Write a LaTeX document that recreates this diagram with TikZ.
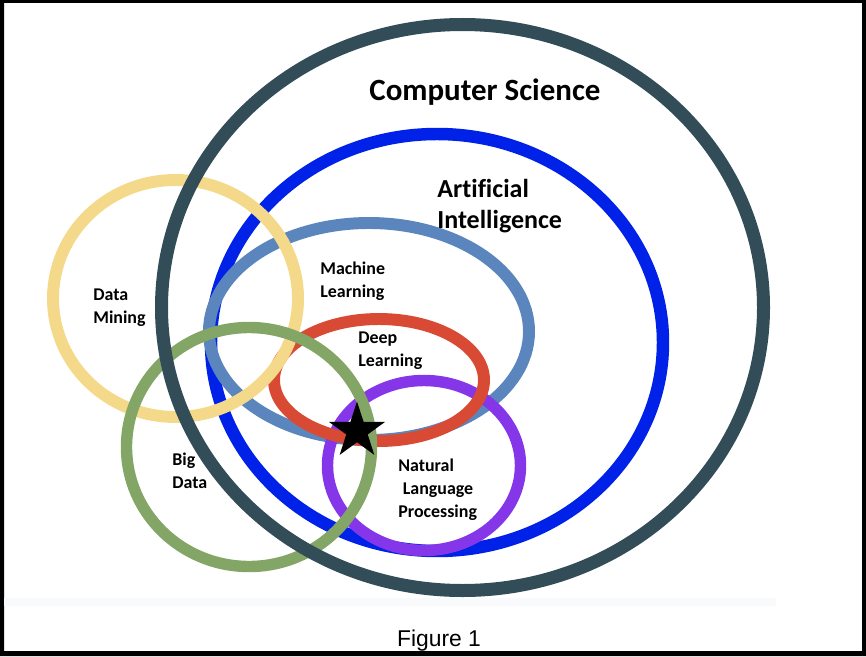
\documentclass[tikz,border=0pt]{standalone}
\usepackage{fontspec}
\setmainfont{Carlito}[Ligatures=NoCommon]
\newfontfamily\captionfont{Liberation Sans}
\usetikzlibrary{shapes.geometric}
\definecolor{cscol}{RGB}{50, 77, 88}
\definecolor{aicol}{RGB}{0, 34, 232}
\definecolor{mlcol}{RGB}{91, 134, 189}
\definecolor{dlcol}{RGB}{217, 74, 52}
\definecolor{nlpcol}{RGB}{132, 54, 232}
\definecolor{dmcol}{RGB}{245, 217, 138}
\definecolor{bdcol}{RGB}{131, 165, 102}
\definecolor{stripcol}{RGB}{249, 250, 252}

\tikzset{
  tag/.style={font=\fontsize{10.2}{13}\selectfont\bfseries, inner sep=0pt, align=left, anchor=base west},
}

\begin{document}
\begin{tikzpicture}
        \useasboundingbox (0,0) rectangle (17.32,13.12);
        % frame and the faint strip under the rings
        \fill[black, even odd rule] (0,0) rectangle (17.32,13.12) (0.08,0.10) rectangle (17.24,13.06);
        \fill[stripcol] (0.08,1.00) rectangle (15.52,1.16);
        % rings
        \draw[aicol, line width=7.1pt] (8.74,6.27) ellipse (4.52 and 4.17);
        \draw[mlcol, line width=6.8pt] (7.38,6.49) ellipse (3.20 and 2.17);
        \draw[nlpcol, line width=6.5pt] (8.48,3.81) ellipse (1.93 and 1.70);
        \draw[dlcol, line width=6.8pt] (7.58,5.52) ellipse (2.10 and 1.22);
        \draw[dmcol, line width=6.8pt] (3.51,7.15) ellipse (2.45 and 2.37);
        \draw[bdcol, line width=6.5pt] (4.98,4.18) ellipse (2.45 and 2.39);
        \draw[cscol, line width=7.4pt] (9.25,6.97) ellipse (6.02 and 5.66);
        \node[star, star points=5, star point ratio=2.618, fill=black, inner sep=0pt, minimum size=1.18cm] (mark) at (7.14,4.50) {};
        % labels
        \node[font=\fontsize{17.6}{21}\selectfont\bfseries, inner sep=0pt, anchor=base] (cs) at (9.70,11.12) {Computer Science};
        \node[font=\fontsize{14.8}{17.1}\selectfont\bfseries, inner sep=0pt, align=left, anchor=base west] (ai) at (8.74,8.56) {Artificial\\Intelligence};
        \node[tag] (ml) at (6.40,7.18) {Machine\\Learning};
        \node[tag] (dl) at (7.16,5.80) {Deep\\Learning};
        \node[tag] (nlp) at (7.96,2.78) {Natural\\\hspace{0.09cm}Language\\Processing};
        \node[tag] (dm) at (1.86,6.66) {Data\\Mining};
        \node[tag] (bd) at (3.44,3.36) {Big\\Data};
        \node[font=\fontsize{13}{15}\selectfont\captionfont, inner sep=0pt, anchor=base] (fig) at (8.78,0.20) {Figure 1};
      \end{tikzpicture}
\end{document}
